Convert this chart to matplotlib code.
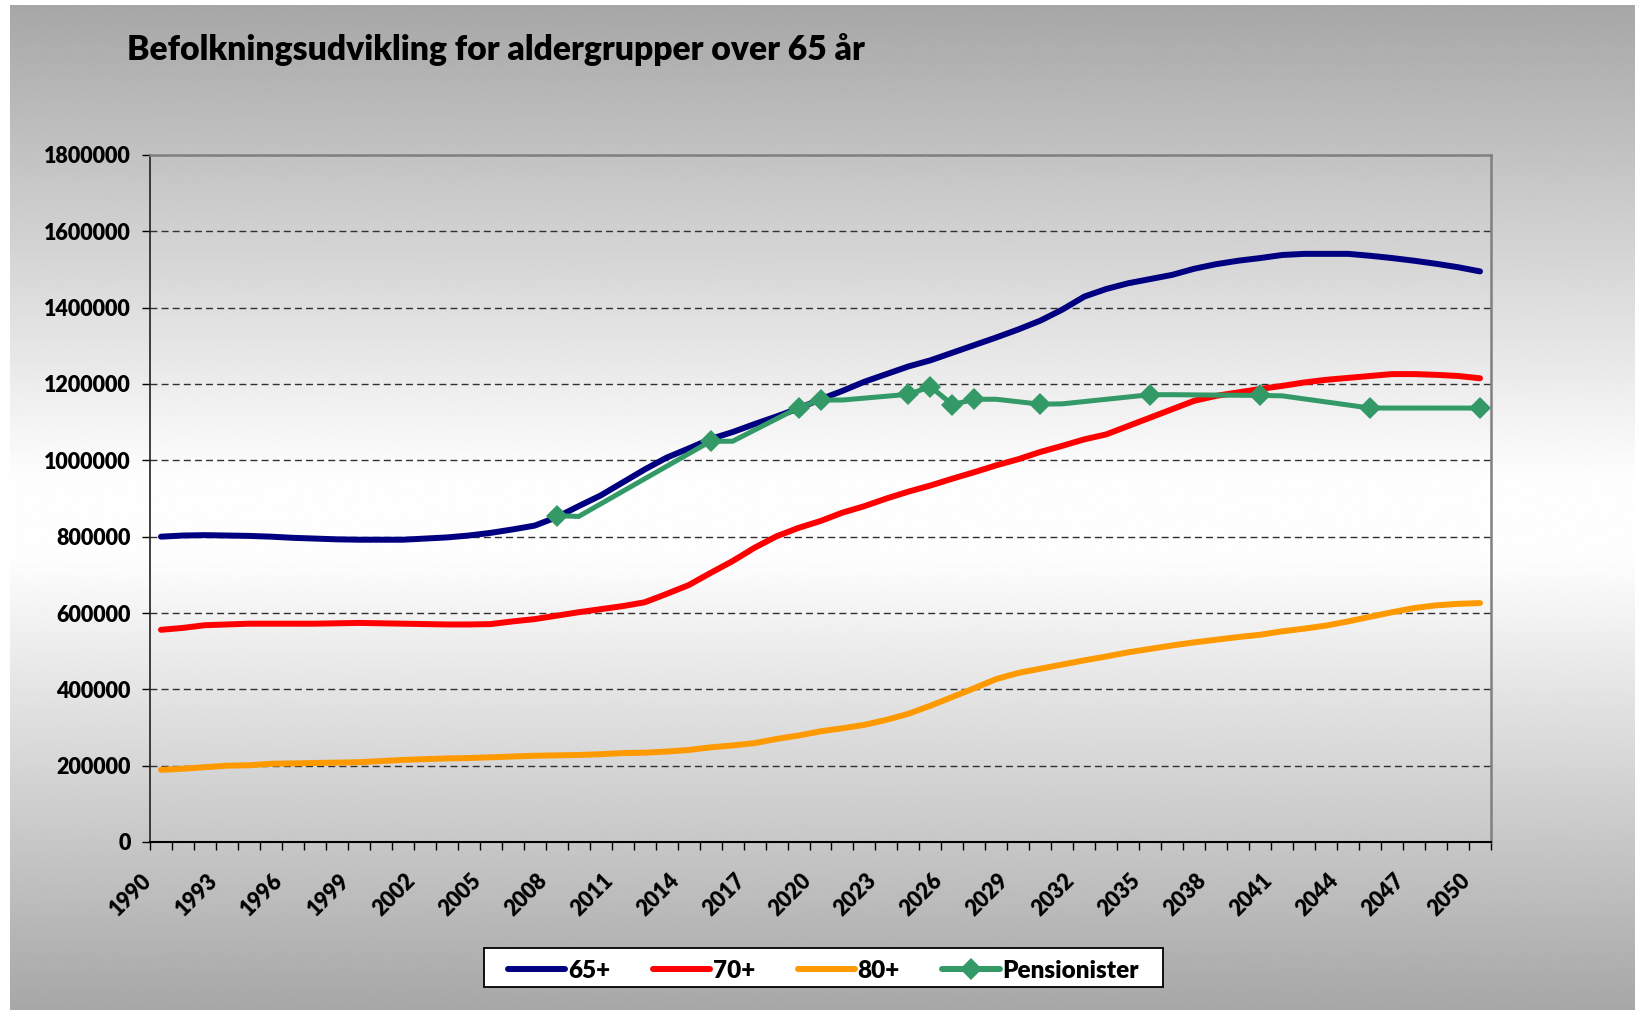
import numpy as np
import matplotlib
matplotlib.use("Agg")
import matplotlib.pyplot as plt
from matplotlib.lines import Line2D
from matplotlib.patches import Rectangle
from matplotlib.transforms import ScaledTranslation

# ---------------- data ----------------
years = list(range(1990, 2051))

age65 = [800, 803, 804, 803, 802, 800, 797, 795, 793, 792,
         792, 792, 795, 798, 803, 810, 819, 829, 851, 880,
         908, 942, 976, 1007, 1031, 1056, 1074, 1095, 1115, 1136,
         1160, 1182, 1206, 1226, 1246, 1262, 1282, 1302, 1322, 1343,
         1366, 1395, 1429, 1449, 1464, 1475, 1486, 1502, 1514, 1523,
         1530, 1538, 1541, 1541, 1541, 1536, 1530, 1523, 1515, 1506,
         1495]

age70 = [556, 561, 568, 570, 572, 572, 572, 572, 573, 574,
         573, 572, 571, 570, 570, 571, 578, 584, 593, 602,
         610, 618, 628, 650, 673, 705, 736, 771, 801, 823,
         841, 863, 880, 900, 918, 934, 952, 969, 987, 1003,
         1022, 1038, 1055, 1068, 1090, 1112, 1134, 1156, 1169, 1178,
         1187, 1195, 1204, 1211, 1216, 1221, 1226, 1226, 1224, 1221,
         1215]

age80 = [189, 192, 196, 200, 201, 205, 206, 207, 208, 209,
         212, 215, 217, 219, 220, 222, 224, 226, 227, 228,
         230, 233, 234, 237, 241, 248, 253, 259, 270, 279,
         290, 298, 307, 320, 336, 357, 380, 403, 427, 443,
         454, 465, 476, 486, 497, 506, 515, 523, 530, 537,
         543, 552, 559, 567, 578, 590, 602, 613, 620, 624,
         626]

pens_years = [2008, 2009, 2015, 2016, 2019, 2020, 2021, 2024, 2025, 2026,
              2027, 2028, 2030, 2031, 2035, 2036, 2040, 2041, 2045, 2046, 2050]
pens_values = [855, 853, 1050, 1050, 1138, 1158, 1158, 1173, 1193, 1146,
               1160, 1160, 1147, 1148, 1172, 1172, 1170, 1169, 1137, 1137, 1137]
pens_marker_years = [2008, 2015, 2019, 2020, 2024, 2025, 2026, 2027, 2030,
                     2035, 2040, 2045, 2050]

series_names = ["65+", "70+", "80+", "Pensionister"]
label_years = list(range(1990, 2051, 3))
y_ticks = list(range(0, 1800001, 200000))
title = "Befolkningsudvikling for aldergrupper over 65 år"

# ---------------- style ----------------
W, H = 1635, 1010
FONT = "Lato"
WEIGHT = "heavy"
C65, C70, C80, CP = "#000080", "#ff0000", "#ff9900", "#339966"

fig = plt.figure(figsize=(W / 100, H / 100), dpi=100)
fig.patch.set_facecolor("white")

# gradient background of the chart area
bg = fig.add_axes([10 / W, 0, 1 - 10 / W, 1 - 5 / H], zorder=-10)
pos = np.linspace(0, 1, 400)
stops_x = [0.0, 0.47, 0.55, 1.0]
stops_v = [0.655, 0.995, 0.995, 0.655]
grad = np.interp(pos, stops_x, stops_v)[:, None]
bg.imshow(grad, aspect="auto", cmap="gray", vmin=0, vmax=1,
          extent=[0, 1, 0, 1], interpolation="bilinear")
bg.axis("off")

L, R, T, B = 150, 1491, 155, 842
ax = fig.add_axes([L / W, 1 - B / H, (R - L) / W, (B - T) / H])
ax.patch.set_alpha(0)

k = 1000
ax.plot(years, [v * k for v in age65], color=C65, lw=4.3, solid_capstyle="round", zorder=4)
ax.plot(years, [v * k for v in age70], color=C70, lw=4.3, solid_capstyle="round", zorder=4)
ax.plot(years, [v * k for v in age80], color=C80, lw=4.3, solid_capstyle="round", zorder=4)
mk_idx = [pens_years.index(y) for y in pens_marker_years]
ax.plot(pens_years, [v * k for v in pens_values], color=CP, lw=3.6,
        marker="D", markersize=11.5, markevery=mk_idx, markeredgewidth=0,
        solid_joinstyle="miter", zorder=5, clip_on=False)

ax.set_xlim(1989.5, 2050.5)
ax.set_ylim(0, 1800000)

# y axis
ax.set_yticks(y_ticks)
ax.set_yticklabels([str(v) for v in y_ticks])
ax.tick_params(axis="y", which="major", length=5.5, width=1, color="black", pad=8.4)
ax.yaxis.grid(True, linestyle=(0, (5, 3)), color="#303030", linewidth=1)
ax.set_axisbelow(True)

# x axis: ticks between categories, labels at category centres
ax.set_xticks(np.arange(1989.5, 2051.0, 1.0))
ax.set_xticklabels([])
ax.tick_params(axis="x", which="major", length=5.5, width=1, color="black")
ax.set_xticks(label_years, minor=True)
ax.set_xticklabels([str(y) for y in label_years], minor=True, rotation=45,
                   ha="right", va="center", rotation_mode="anchor")
ax.tick_params(axis="x", which="minor", length=0, pad=25.5)
off = ScaledTranslation(-13 / 100, 0, fig.dpi_scale_trans)
for lab in ax.get_xticklabels(minor=True):
    lab.set_transform(lab.get_transform() + off)

for lab in ax.get_xticklabels(minor=True) + ax.get_yticklabels():
    lab.set_fontfamily(FONT)
    lab.set_fontweight(WEIGHT)
    lab.set_fontsize(15.5)

for s in ["top", "right"]:
    ax.spines[s].set_color("#808080")
    ax.spines[s].set_linewidth(1.8)
ax.spines["left"].set_color("#202020")
ax.spines["left"].set_linewidth(1.2)
ax.spines["bottom"].set_color("black")
ax.spines["bottom"].set_linewidth(1.5)
for s in ax.spines.values():
    s.set_zorder(6)

# title
fig.text(127 / W, 1 - 60 / H, title, fontsize=24.2, fontweight=WEIGHT,
         family=FONT, ha="left", va="baseline")

# legend box + legend
fig.patches.append(Rectangle((484 / W, 1 - 987 / H), (1163 - 484) / W, 39 / H,
                             transform=fig.transFigure, facecolor="white",
                             edgecolor="black", linewidth=1.3, zorder=1))
handles = [Line2D([], [], color=C65, lw=4.3, solid_capstyle="round"),
           Line2D([], [], color=C70, lw=4.3, solid_capstyle="round"),
           Line2D([], [], color=C80, lw=4.3, solid_capstyle="round"),
           Line2D([], [], color=CP, lw=4.3, marker="D", markersize=11,
                  markeredgewidth=0, solid_capstyle="round")]
leg = fig.legend(handles, series_names, loc="center",
                 bbox_to_anchor=(823.5 / W, 1 - 971 / H), ncol=4,
                 frameon=False, handlelength=2.35, handletextpad=0.12,
                 columnspacing=1.75,
                 prop={"family": FONT, "weight": WEIGHT, "size": 17.5})
leg.set_zorder(2)

fig.savefig("out.png", dpi=100)
